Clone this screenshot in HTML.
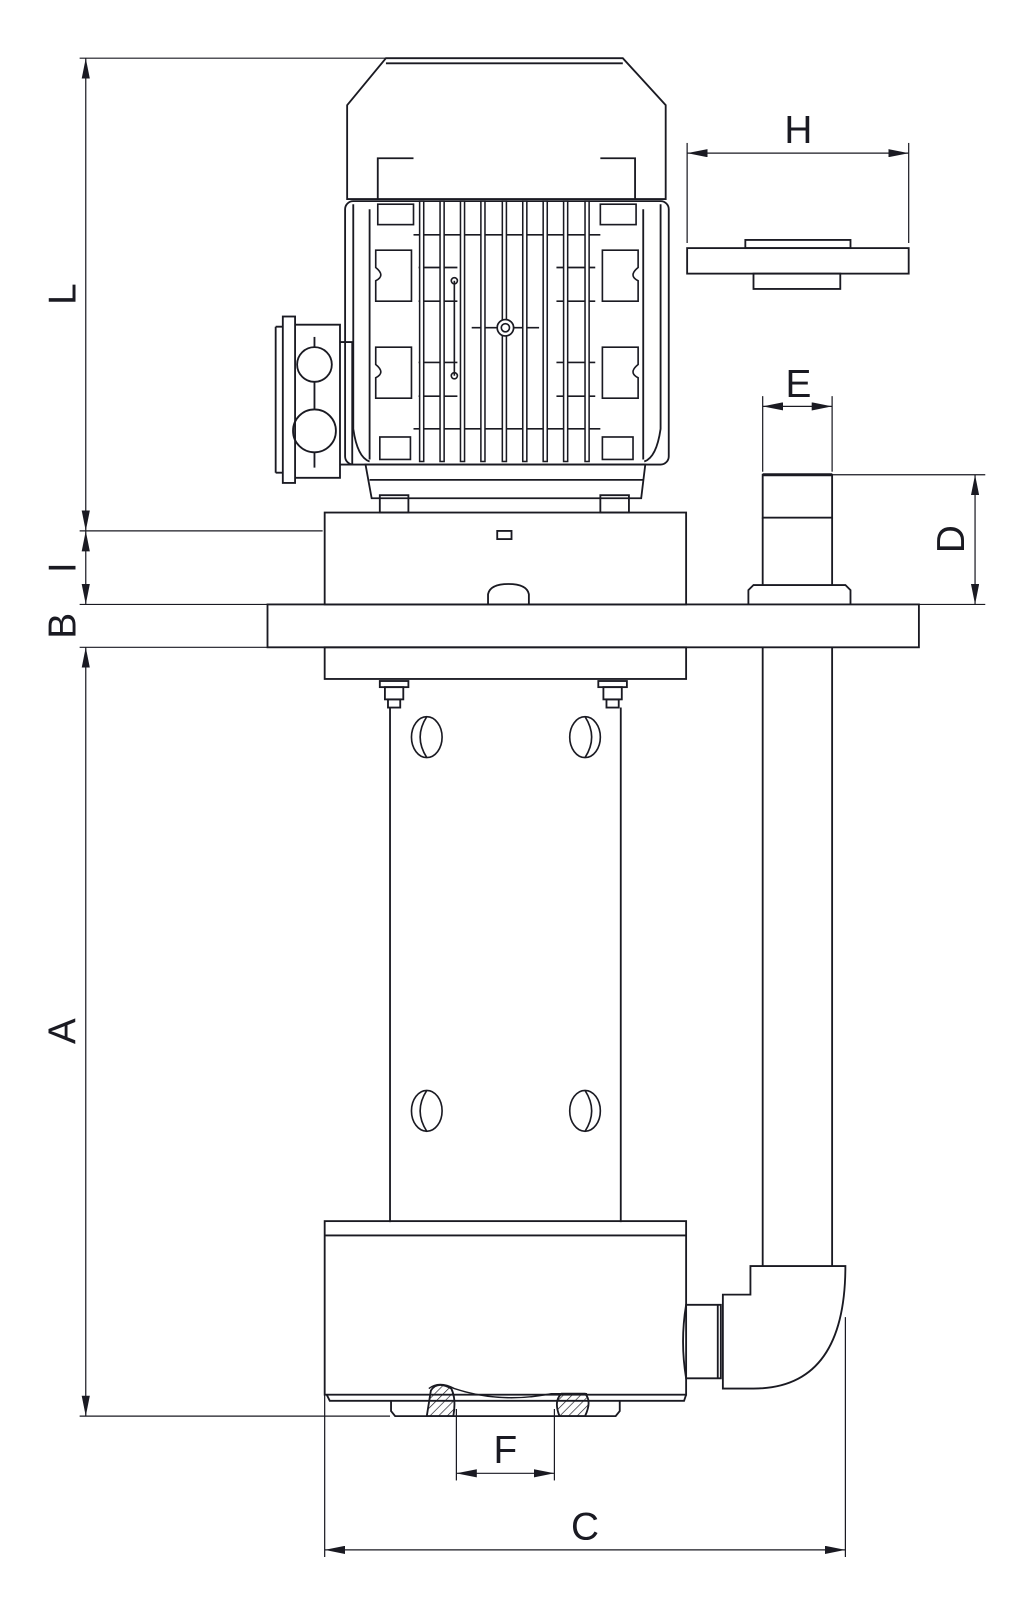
<!DOCTYPE html>
<html><head><meta charset="utf-8"><style>
html,body{margin:0;padding:0;background:#fff;}
svg{display:block}
text{font-family:"Liberation Sans",sans-serif;font-size:38px;fill:#1a1a22;}
</style></head><body>
<svg width="1029" height="1600" viewBox="0 0 1029 1600" xmlns="http://www.w3.org/2000/svg">
<defs>
<marker id="a" viewBox="0 0 20 8" refX="20" refY="4" markerWidth="20" markerHeight="8" markerUnits="userSpaceOnUse" orient="auto-start-reverse"><path d="M0,0 L20,4 L0,8 Z" fill="#1a1a22"/></marker>
<pattern id="hatch" width="6" height="6" patternUnits="userSpaceOnUse" patternTransform="rotate(45)"><line x1="0" y1="0" x2="0" y2="6" stroke="#1a1a22" stroke-width="1.3"/></pattern>
</defs>
<g transform="scale(1.021)" fill="none" stroke="#1a1a22" stroke-width="1.8">
<g stroke-width="1.2">
<line x1="78" y1="57" x2="378" y2="57"/>
<line x1="78" y1="520" x2="316" y2="520"/>
<line x1="78" y1="592" x2="262" y2="592"/>
<line x1="78" y1="634" x2="262" y2="634"/>
<line x1="78" y1="1387" x2="382" y2="1387"/>
<line x1="84" y1="57" x2="84" y2="520" marker-start="url(#a)" marker-end="url(#a)"/>
<line x1="84" y1="520" x2="84" y2="592" marker-start="url(#a)" marker-end="url(#a)"/>
<line x1="84" y1="634" x2="84" y2="1387" marker-start="url(#a)" marker-end="url(#a)"/>
<line x1="673" y1="140" x2="673" y2="238"/>
<line x1="890" y1="140" x2="890" y2="238"/>
<line x1="673" y1="150" x2="890" y2="150" marker-start="url(#a)" marker-end="url(#a)"/>
<line x1="747" y1="388" x2="747" y2="462"/>
<line x1="815" y1="388" x2="815" y2="462"/>
<line x1="747" y1="398" x2="815" y2="398" marker-start="url(#a)" marker-end="url(#a)"/>
<line x1="815" y1="465" x2="965" y2="465"/>
<line x1="900" y1="592" x2="965" y2="592"/>
<line x1="955" y1="465" x2="955" y2="592" marker-start="url(#a)" marker-end="url(#a)"/>
<line x1="447" y1="1380" x2="447" y2="1450"/>
<line x1="543" y1="1380" x2="543" y2="1450"/>
<line x1="447" y1="1443" x2="543" y2="1443" marker-start="url(#a)" marker-end="url(#a)"/>
<line x1="318" y1="1366" x2="318" y2="1525"/>
<line x1="828" y1="1290" x2="828" y2="1525"/>
<line x1="318" y1="1518" x2="828" y2="1518" marker-start="url(#a)" marker-end="url(#a)"/>
</g>
<path d="M378,57 L610,57 L652,103 L652,195 L340,195 L340,103 Z"/>
<line x1="378" y1="62" x2="610" y2="62"/>
<path d="M370,195 V155 H405 M622,195 V155 H588"/>
<rect x="338" y="197" width="317" height="258" rx="8"/>
<path d="M346,200 V420 Q350,448 362,452 M647,200 V420 Q643,448 631,452"/>
<path d="M362,205 V450 M630,205 V450"/>
<g stroke-width="1.6">
<path d="M368,245 H403 V295 H368 V275 Q378,270 368,262 Z"/>
<path d="M368,340 H403 V390 H368 V370 Q378,365 368,357 Z"/>
<path d="M625,245 H590 V295 H625 V275 Q615,270 625,262 Z"/>
<path d="M625,340 H590 V390 H625 V370 Q615,365 625,357 Z"/>
<rect x="370" y="200" width="35" height="20"/><rect x="588" y="200" width="35" height="20"/>
<rect x="372" y="428" width="30" height="22"/><rect x="590" y="428" width="30" height="22"/>
<line x1="405" y1="230" x2="588" y2="230"/>
<line x1="405" y1="420" x2="588" y2="420"/>
<line x1="410" y1="262" x2="448" y2="262"/><line x1="410" y1="295" x2="448" y2="295"/>
<line x1="410" y1="355" x2="448" y2="355"/><line x1="410" y1="388" x2="448" y2="388"/>
<line x1="545" y1="262" x2="583" y2="262"/><line x1="545" y1="295" x2="583" y2="295"/>
<line x1="545" y1="355" x2="583" y2="355"/><line x1="545" y1="388" x2="583" y2="388"/>
<line x1="445" y1="275" x2="445" y2="368"/>
<circle cx="445" cy="275" r="3"/><circle cx="445" cy="368" r="3"/>
<line x1="462" y1="321" x2="528" y2="321"/>
<circle cx="495" cy="321" r="8"/><circle cx="495" cy="321" r="4"/>
</g>
<g stroke-width="1.5" fill="#fff">
<rect x="411" y="197" width="4" height="255"/><rect x="431" y="197" width="4" height="255"/>
<rect x="451" y="197" width="4" height="255"/><rect x="471" y="197" width="4" height="255"/>
<rect x="492" y="197" width="4" height="255"/><rect x="512" y="197" width="4" height="255"/>
<rect x="532" y="197" width="4" height="255"/><rect x="552" y="197" width="4" height="255"/>
<rect x="573" y="197" width="4" height="255"/>
</g>
<circle cx="495" cy="321" r="8" fill="#fff" stroke-width="1.6"/><circle cx="495" cy="321" r="4" stroke-width="1.6"/>
<path d="M358,455 H632 L628,488 H364 Z"/>
<line x1="362" y1="470" x2="630" y2="470"/>
<rect x="372" y="485" width="28" height="17"/><rect x="588" y="485" width="28" height="17"/>
<rect x="277" y="310" width="12" height="163"/>
<path d="M289,318 H333 V468 H289"/>
<path d="M270,320 H277 M270,463 H277 M270,320 V463"/>
<circle cx="308" cy="357" r="17"/><circle cx="308" cy="422" r="21"/>
<line x1="308" y1="330" x2="308" y2="340"/><line x1="308" y1="374" x2="308" y2="401"/><line x1="308" y1="443" x2="308" y2="458"/>
<path d="M333,335 H345 V455 H333"/>
<rect x="318" y="502" width="354" height="90"/>
<rect x="487" y="520" width="14" height="8"/>
<path d="M478,592 V582 Q480,572 498,572 Q516,572 518,582 V592"/>
<rect x="262" y="592" width="638" height="42"/>
<rect x="318" y="634" width="354" height="31"/>
<rect x="372" y="667" width="28" height="6"/><rect x="377" y="673" width="18" height="12"/><rect x="380" y="685" width="12" height="8"/>
<rect x="586" y="667" width="28" height="6"/><rect x="591" y="673" width="18" height="12"/><rect x="594" y="685" width="12" height="8"/>
<line x1="382" y1="693" x2="382" y2="1197"/><line x1="608" y1="693" x2="608" y2="1197"/>
<g stroke-width="1.6">
<ellipse cx="418" cy="722" rx="15" ry="20"/><path d="M418,702 Q405,722 418,742"/>
<ellipse cx="573" cy="722" rx="15" ry="20"/><path d="M573,702 Q586,722 573,742"/>
<ellipse cx="418" cy="1088" rx="15" ry="20"/><path d="M418,1068 Q405,1088 418,1108"/>
<ellipse cx="573" cy="1088" rx="15" ry="20"/><path d="M573,1068 Q586,1088 573,1108"/>
</g>
<rect x="318" y="1196" width="354" height="170"/>
<line x1="318" y1="1210" x2="672" y2="1210"/>
<path d="M320,1366 L323,1372 H670 L672,1366"/>
<path d="M383,1372 V1382 L387,1387 H603 L607,1382 V1372"/>
<path d="M420,1360 Q430,1352 445,1360 Q490,1375 540,1365 L575,1365" stroke-width="1.4"/>
<path d="M418,1387 L422,1362 Q428,1352 442,1360 Q447,1370 444,1387 Z" fill="url(#hatch)"/>
<path d="M548,1387 Q542,1372 550,1365 H573 Q580,1372 573,1387 Z" fill="url(#hatch)"/>
<rect x="747" y="465" width="68" height="42"/>
<line x1="747" y1="465" x2="815" y2="465" stroke-width="3"/>
<line x1="747" y1="507" x2="747" y2="573"/><line x1="815" y1="507" x2="815" y2="573"/>
<path d="M733,592 V578 L738,573 H828 L833,578 V592"/>
<line x1="747" y1="634" x2="747" y2="1240"/><line x1="815" y1="634" x2="815" y2="1240"/>
<path d="M735,1240 H828 Q828,1360 738,1360 H708 V1268 H735 Z"/>
<path d="M672,1278 H706 V1350 H672 Q666,1314 672,1278 Z"/>
<line x1="703" y1="1278" x2="703" y2="1350"/>
<rect x="673" y="243" width="217" height="25"/>
<rect x="730" y="235" width="103" height="8"/>
<rect x="738" y="268" width="85" height="15"/>
</g>
<g transform="scale(1.021)">
<text x="782" y="140" text-anchor="middle">H</text>
<text x="782" y="389" text-anchor="middle">E</text>
<text x="495" y="1433" text-anchor="middle">F</text>
<text x="573" y="1508" text-anchor="middle">C</text>
<text transform="translate(944,528) rotate(-90)" text-anchor="middle">D</text>
<text transform="translate(74,288) rotate(-90)" text-anchor="middle">L</text>
<text transform="translate(74,556) rotate(-90)" text-anchor="middle">I</text>
<text transform="translate(74,613) rotate(-90)" text-anchor="middle">B</text>
<text transform="translate(74,1010) rotate(-90)" text-anchor="middle">A</text>
</g>
</svg>
</body></html>
